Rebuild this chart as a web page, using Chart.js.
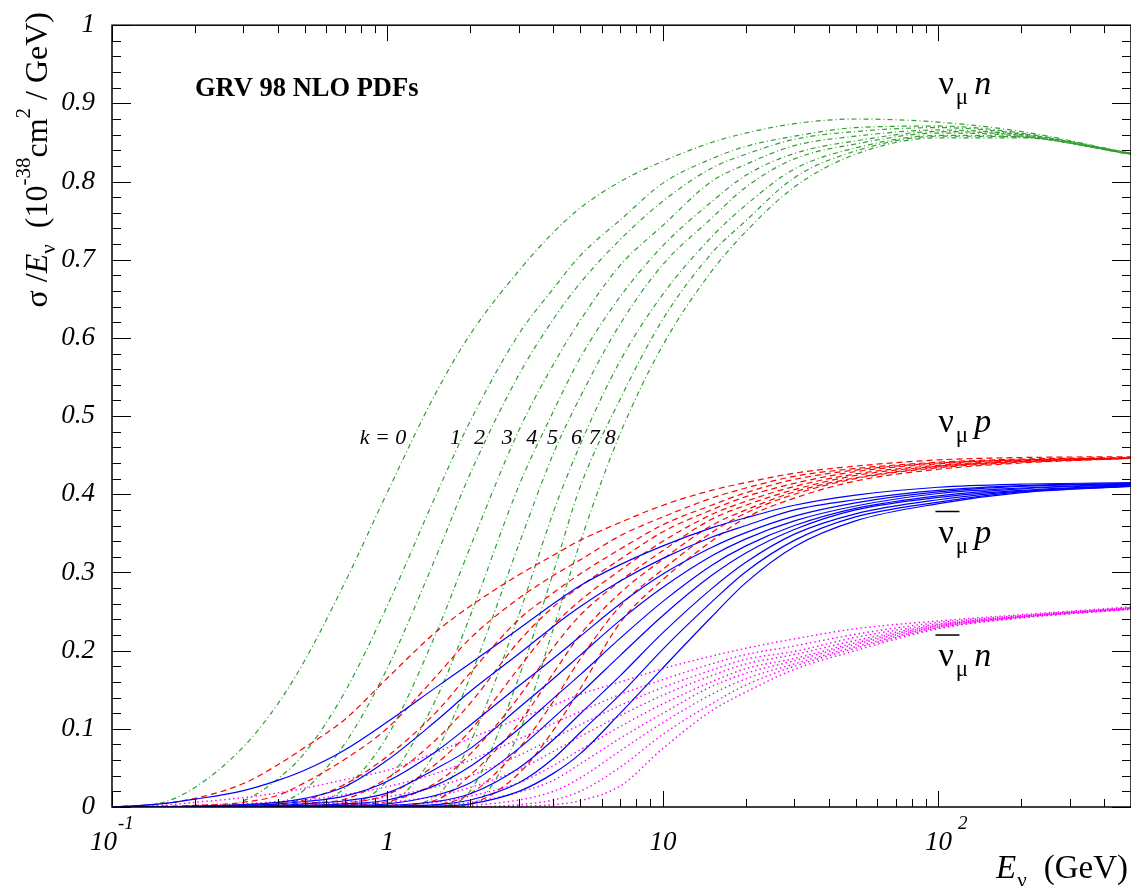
<!DOCTYPE html>
<html>
<head>
<meta charset="utf-8">
<title>GRV 98 NLO neutrino cross sections</title>
<script src="https://cdn.jsdelivr.net/npm/chart.js@4.4.1/dist/chart.umd.min.js"></script>
<style>
  html, body { margin: 0; padding: 0; background: #fff; }
  #box { width: 1131px; height: 886px; }
</style>
</head>
<body>
<div id="box"><canvas id="xsec" width="1131" height="886"></canvas></div>
<script>
// neutrino energy grid (GeV)
const energies = [0.1, 0.15, 0.2, 0.3, 0.4, 0.5, 0.7, 1, 1.5, 2, 3, 4, 5, 7, 10, 15, 20, 30, 50, 100, 200, 500];

// sigma/E (1e-38 cm^2/GeV), one row per k = 0..8
const nuMuN = [
  [0, 0.005, 0.025, 0.077, 0.132, 0.187, 0.287, 0.403, 0.530, 0.605, 0.686, 0.735, 0.766, 0.800, 0.826, 0.850, 0.862, 0.874, 0.880, 0.876, 0.864, 0.836],
  [0, 0, 0, 0.008, 0.036, 0.069, 0.147, 0.258, 0.399, 0.494, 0.605, 0.663, 0.705, 0.751, 0.798, 0.829, 0.845, 0.858, 0.869, 0.871, 0.862, 0.836],
  [0, 0, 0, 0, 0.005, 0.022, 0.081, 0.178, 0.320, 0.427, 0.553, 0.624, 0.670, 0.726, 0.775, 0.817, 0.835, 0.854, 0.864, 0.869, 0.861, 0.836],
  [0, 0, 0, 0, 0, 0.002, 0.024, 0.091, 0.222, 0.333, 0.482, 0.566, 0.622, 0.693, 0.744, 0.800, 0.822, 0.846, 0.858, 0.866, 0.860, 0.836],
  [0, 0, 0, 0, 0, 0, 0.002, 0.034, 0.138, 0.245, 0.411, 0.506, 0.574, 0.653, 0.718, 0.774, 0.808, 0.836, 0.852, 0.864, 0.859, 0.835],
  [0, 0, 0, 0, 0, 0, 0, 0.005, 0.071, 0.167, 0.336, 0.452, 0.524, 0.618, 0.694, 0.753, 0.793, 0.829, 0.848, 0.862, 0.858, 0.835],
  [0, 0, 0, 0, 0, 0, 0, 0, 0.014, 0.083, 0.246, 0.377, 0.463, 0.571, 0.656, 0.729, 0.770, 0.816, 0.843, 0.859, 0.857, 0.835],
  [0, 0, 0, 0, 0, 0, 0, 0, 0.001, 0.021, 0.166, 0.300, 0.409, 0.522, 0.624, 0.708, 0.750, 0.805, 0.839, 0.858, 0.857, 0.835],
  [0, 0, 0, 0, 0, 0, 0, 0, 0, 0.003, 0.095, 0.228, 0.338, 0.478, 0.591, 0.685, 0.736, 0.793, 0.835, 0.856, 0.856, 0.835]
];

const nuMuP = [
  [0, 0.004, 0.011, 0.030, 0.054, 0.076, 0.112, 0.165, 0.224, 0.257, 0.297, 0.322, 0.341, 0.364, 0.386, 0.405, 0.415, 0.427, 0.436, 0.444, 0.447, 0.448],
  [0, 0.001, 0.002, 0.006, 0.015, 0.031, 0.061, 0.101, 0.167, 0.216, 0.267, 0.296, 0.316, 0.347, 0.371, 0.395, 0.408, 0.423, 0.433, 0.441, 0.445, 0.447],
  [0, 0, 0.001, 0.003, 0.006, 0.009, 0.029, 0.065, 0.121, 0.172, 0.240, 0.274, 0.298, 0.330, 0.361, 0.386, 0.402, 0.419, 0.431, 0.440, 0.444, 0.4465],
  [0, 0, 0, 0.001, 0.003, 0.005, 0.010, 0.037, 0.086, 0.133, 0.212, 0.256, 0.282, 0.317, 0.352, 0.380, 0.397, 0.414, 0.429, 0.439, 0.444, 0.4465],
  [0, 0, 0, 0, 0.001, 0.002, 0.005, 0.016, 0.055, 0.098, 0.178, 0.232, 0.264, 0.303, 0.340, 0.374, 0.391, 0.410, 0.426, 0.437, 0.443, 0.446],
  [0, 0, 0, 0, 0, 0.001, 0.003, 0.007, 0.031, 0.068, 0.141, 0.204, 0.245, 0.289, 0.328, 0.368, 0.386, 0.406, 0.424, 0.436, 0.442, 0.446],
  [0, 0, 0, 0, 0, 0, 0, 0.002, 0.009, 0.041, 0.107, 0.171, 0.220, 0.274, 0.317, 0.360, 0.380, 0.403, 0.421, 0.435, 0.442, 0.446],
  [0, 0, 0, 0, 0, 0, 0, 0, 0.003, 0.017, 0.075, 0.135, 0.189, 0.257, 0.304, 0.351, 0.376, 0.400, 0.420, 0.434, 0.441, 0.446],
  [0, 0, 0, 0, 0, 0, 0, 0, 0, 0.004, 0.043, 0.098, 0.151, 0.236, 0.291, 0.340, 0.370, 0.395, 0.417, 0.432, 0.440, 0.446]
];

const nuMuBarP = [
  [0, 0.004, 0.010, 0.021, 0.034, 0.047, 0.073, 0.109, 0.153, 0.184, 0.228, 0.260, 0.283, 0.310, 0.334, 0.357, 0.370, 0.386, 0.399, 0.409, 0.413, 0.415],
  [0, 0, 0.001, 0.003, 0.006, 0.011, 0.026, 0.060, 0.110, 0.148, 0.196, 0.231, 0.256, 0.289, 0.318, 0.345, 0.360, 0.380, 0.393, 0.405, 0.411, 0.414],
  [0, 0, 0.001, 0.002, 0.004, 0.007, 0.014, 0.033, 0.071, 0.105, 0.155, 0.190, 0.218, 0.260, 0.298, 0.332, 0.351, 0.372, 0.389, 0.403, 0.410, 0.4135],
  [0, 0, 0, 0.001, 0.002, 0.004, 0.008, 0.018, 0.049, 0.075, 0.127, 0.164, 0.194, 0.239, 0.281, 0.321, 0.343, 0.366, 0.385, 0.401, 0.408, 0.413],
  [0, 0, 0, 0, 0.001, 0.002, 0.004, 0.009, 0.028, 0.052, 0.100, 0.139, 0.169, 0.216, 0.263, 0.309, 0.334, 0.360, 0.382, 0.398, 0.407, 0.412],
  [0, 0, 0, 0, 0, 0.001, 0.002, 0.004, 0.015, 0.031, 0.075, 0.114, 0.145, 0.194, 0.245, 0.296, 0.325, 0.355, 0.380, 0.396, 0.405, 0.4115],
  [0, 0, 0, 0, 0, 0, 0.001, 0.002, 0.007, 0.017, 0.050, 0.086, 0.119, 0.168, 0.223, 0.279, 0.313, 0.349, 0.375, 0.393, 0.404, 0.411],
  [0, 0, 0, 0, 0, 0, 0, 0.001, 0.003, 0.009, 0.031, 0.062, 0.095, 0.144, 0.202, 0.262, 0.301, 0.341, 0.371, 0.390, 0.403, 0.410],
  [0, 0, 0, 0, 0, 0, 0, 0, 0.001, 0.004, 0.020, 0.043, 0.068, 0.120, 0.178, 0.243, 0.287, 0.333, 0.366, 0.388, 0.402, 0.410]
];

const nuMuBarN = [
  [0, 0.002, 0.006, 0.012, 0.018, 0.024, 0.035, 0.047, 0.070, 0.088, 0.113, 0.130, 0.144, 0.160, 0.177, 0.193, 0.203, 0.215, 0.228, 0.238, 0.246, 0.256],
  [0, 0, 0.002, 0.004, 0.007, 0.009, 0.016, 0.026, 0.043, 0.060, 0.087, 0.107, 0.122, 0.144, 0.163, 0.183, 0.195, 0.206, 0.221, 0.236, 0.245, 0.255],
  [0, 0, 0, 0, 0.002, 0.003, 0.006, 0.013, 0.026, 0.040, 0.066, 0.088, 0.105, 0.130, 0.153, 0.175, 0.189, 0.199, 0.217, 0.234, 0.244, 0.255],
  [0, 0, 0, 0, 0, 0.001, 0.003, 0.006, 0.014, 0.025, 0.048, 0.071, 0.090, 0.117, 0.143, 0.168, 0.183, 0.195, 0.213, 0.233, 0.244, 0.254],
  [0, 0, 0, 0, 0, 0, 0, 0.002, 0.006, 0.014, 0.031, 0.053, 0.073, 0.103, 0.132, 0.160, 0.177, 0.190, 0.210, 0.232, 0.2435, 0.254],
  [0, 0, 0, 0, 0, 0, 0, 0, 0.002, 0.006, 0.019, 0.034, 0.055, 0.088, 0.120, 0.154, 0.171, 0.187, 0.208, 0.231, 0.243, 0.254],
  [0, 0, 0, 0, 0, 0, 0, 0, 0, 0.002, 0.009, 0.020, 0.037, 0.072, 0.108, 0.144, 0.164, 0.183, 0.205, 0.230, 0.243, 0.2535],
  [0, 0, 0, 0, 0, 0, 0, 0, 0, 0, 0.003, 0.009, 0.020, 0.051, 0.093, 0.132, 0.156, 0.180, 0.203, 0.229, 0.242, 0.253],
  [0, 0, 0, 0, 0, 0, 0, 0, 0, 0, 0.001, 0.003, 0.008, 0.027, 0.075, 0.123, 0.147, 0.176, 0.200, 0.228, 0.242, 0.253]
];

const yTickLabels = ['0', '0.1', '0.2', '0.3', '0.4', '0.5', '0.6', '0.7', '0.8', '0.9', '1'];
const xTickValues = [0.1, 1, 10, 100];
const xTickLabels = [['10', '-1'], ['1', ''], ['10', ''], ['10', '2']];
const kLabels = ['k = 0', '1', '2', '3', '4', '5', '6', '7', '8'];

const serif = '"Liberation Serif", "Times New Roman", serif';

// later families are drawn underneath, so blue (solid) ends up on top
const families = [
  { name: 'anti-numu p', curves: nuMuBarP, color: '#0000ff', dash: [], width: 1.2 },
  { name: 'numu p', curves: nuMuP, color: '#ff0000', dash: [6, 4], width: 1.2 },
  { name: 'numu n', curves: nuMuN, color: '#2f9f2f', dash: [5, 3, 1, 3], width: 1.2 },
  { name: 'anti-numu n', curves: nuMuBarN, color: '#ff00ff', dash: [1.5, 3], width: 1.4 }
];

const datasets = [];
families.forEach(f => {
  f.curves.forEach((vals, k) => {
    datasets.push({
      label: f.name + ' k=' + k,
      data: energies.map((e, i) => ({ x: e, y: vals[i] })),
      borderColor: f.color,
      borderWidth: f.width,
      borderDash: f.dash,
      borderCapStyle: 'butt',
      pointRadius: 0,
      fill: false,
      cubicInterpolationMode: 'monotone'
    });
  });
});

function put(ctx, str, x, y, font, align) {
  ctx.font = font;
  ctx.textAlign = align || 'left';
  ctx.fillText(str, x, y);
  return ctx.measureText(str).width;
}

// neutrino reaction label, e.g. nu_mu p, with optional bar over the nu
function reaction(ctx, px, py, target, bar) {
  const wn = put(ctx, 'ν', px, py, '34px ' + serif);
  const wm = put(ctx, 'μ', px + wn + 2, py + 10, '23px ' + serif);
  put(ctx, target, px + wn + wm + 8, py, 'italic 34px ' + serif);
  if (bar) ctx.fillRect(px - 3, py - 32, 24, 1.5);
}

const decorations = {
  id: 'decorations',
  afterDatasetsDraw(chart) {
    const { ctx, chartArea: a, scales: { x, y } } = chart;
    ctx.save();
    ctx.strokeStyle = '#000';
    ctx.lineWidth = 1;
    ctx.beginPath();
    // y ticks: major every 0.1, minor every 0.02, on both sides
    for (let i = 0; i <= 50; i++) {
      const py = Math.round(y.getPixelForValue(i * 0.02)) + 0.5;
      const len = i % 5 === 0 ? 19 : 9;
      ctx.moveTo(a.left, py); ctx.lineTo(a.left + len, py);
      ctx.moveTo(a.right, py); ctx.lineTo(a.right - len, py);
    }
    // log x ticks, bottom and top
    [0.1, 1, 10, 100].forEach(decade => {
      for (let m = 1; m <= 9; m++) {
        const e = decade * m;
        if (e > x.max) break;
        const px = Math.round(x.getPixelForValue(e)) + 0.5;
        const len = m === 1 ? 16 : 8;
        ctx.moveTo(px, a.bottom); ctx.lineTo(px, a.bottom - len);
        ctx.moveTo(px, a.top); ctx.lineTo(px, a.top + len);
      }
    });
    ctx.stroke();
    ctx.lineWidth = 1.5;
    ctx.strokeRect(a.left, a.top, a.right - a.left, a.bottom - a.top);
    ctx.restore();
  },
  afterDraw(chart) {
    const { ctx, scales: { x, y } } = chart;
    ctx.save();
    ctx.fillStyle = '#000';
    ctx.textBaseline = 'alphabetic';

    // x tick labels with powers of ten
    const tickFont = 'italic 27px ' + serif, supFont = 'italic 19px ' + serif;
    xTickValues.forEach((v, i) => {
      const px = x.getPixelForValue(v);
      const [base, sup] = xTickLabels[i];
      if (i === 0) {
        put(ctx, base, px + 5, 850, tickFont, 'right');
        put(ctx, sup, px + 6, 829, supFont);
      } else {
        const w = put(ctx, base, px, 850, tickFont, 'center');
        if (sup) put(ctx, sup, px + w / 2 + 6, 829, supFont);
      }
    });

    // x title
    const wE = put(ctx, 'E', 996, 878, 'italic 33px ' + serif);
    put(ctx, 'ν', 996 + wE + 1, 887, '21px ' + serif);
    put(ctx, '(GeV)', 1128, 878, '33px ' + serif, 'right');

    // y title, rotated
    const big = '32px ' + serif, small = '21px ' + serif;
    const parts = [
      ['σ /', big, 0], ['E', 'italic 32px ' + serif, 0], ['ν', small, 8],
      ['  (10', big, 0], ['-38', small, -17], ['cm', big, 0], ['2', small, -17], [' / GeV)', big, 0]
    ];
    let total = 0;
    parts.forEach(p => { ctx.font = p[1]; total += ctx.measureText(p[0]).width; });
    ctx.save();
    ctx.translate(47, 12 + total);
    ctx.rotate(-Math.PI / 2);
    let off = 0;
    parts.forEach(p => { off += put(ctx, p[0], off, p[2], p[1]); });
    ctx.restore();

    // header
    put(ctx, 'GRV 98 NLO PDFs', x.getPixelForValue(0.2), y.getPixelForValue(0.91), 'bold 26.5px ' + serif);

    // reaction labels
    const lx = x.getPixelForValue(100);
    reaction(ctx, lx, y.getPixelForValue(0.912), 'n', false);
    reaction(ctx, lx, y.getPixelForValue(0.480), 'p', false);
    reaction(ctx, lx, y.getPixelForValue(0.338), 'p', true);
    reaction(ctx, lx, y.getPixelForValue(0.180), 'n', true);

    // k labels along the numu n curves
    const kAt = [1.17, 1.764, 2.157, 2.724, 3.343, 3.968, 4.851, 5.636, 6.442];
    const ky = y.getPixelForValue(0.4646);
    kLabels.forEach((t, i) => {
      put(ctx, t, x.getPixelForValue(kAt[i]), ky, 'italic 22px ' + serif, i === 0 ? 'right' : 'center');
    });
    ctx.restore();
  }
};

new Chart(document.getElementById('xsec'), {
  type: 'line',
  data: { datasets },
  options: {
    responsive: false,
    animation: false,
    devicePixelRatio: 1,
    events: [],
    layout: { padding: { top: 17, right: 0, bottom: 0, left: 0 } },
    plugins: { legend: { display: false }, tooltip: { enabled: false } },
    scales: {
      x: {
        type: 'logarithmic',
        min: 0.1,
        max: 500,
        grid: { display: false },
        border: { display: false },
        ticks: { display: false },
        afterFit: s => { s.height = 79; }
      },
      y: {
        type: 'linear',
        min: 0,
        max: 1,
        grid: { display: false },
        border: { display: false },
        ticks: {
          stepSize: 0.1,
          autoSkip: false,
          padding: 9,
          color: '#000',
          font: { family: serif, size: 27, style: 'italic' },
          callback: (v, i) => yTickLabels[i]
        },
        afterFit: s => { s.width = 112; }
      }
    }
  },
  plugins: [decorations]
});
</script>
</body>
</html>
